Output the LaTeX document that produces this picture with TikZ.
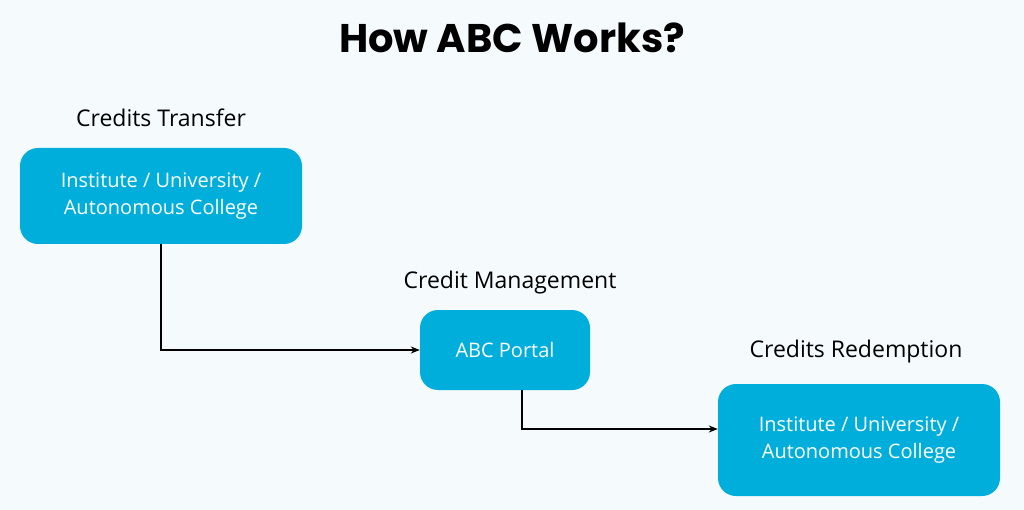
\documentclass[tikz,border=0pt]{standalone}
\usepackage{fontspec}
\setmainfont{Open Sans}
\newfontfamily\titlefont{Poppins}
\usetikzlibrary{arrows.meta}
\definecolor{bgblue}{HTML}{F5FAFD}
\definecolor{boxcyan}{HTML}{00AEDB}

\begin{document}
\begin{tikzpicture}[
    x=1pt, y=-1pt,
    arrowtip/.style={
      -{Stealth[length=9pt,width=7pt]}, line width=1.2pt
    },
    portal/.style={
      rounded corners=18pt, fill=boxcyan, text=white, align=center,
      font=\fontsize{20}{27}\selectfont, inner sep=0pt
    },
    steplabel/.style={
      font=\fontsize{23}{27}\selectfont
    }
  ]
    \fill[bgblue] (0,0) rectangle (1024,510);
    \useasboundingbox (0,0) rectangle (1024,510);

    % title
    \node (Title) at (512,38) {\titlefont\bfseries\fontsize{40}{44}\selectfont How ABC Works?};

    % steps
    \node[steplabel] (LabA) at (161,118) {Credits Transfer};
    \node[portal,minimum width=282pt,minimum height=96pt] (BoxA) at (161,196)
      {Institute / University /\\Autonomous College};

    \node[steplabel] (LabB) at (510,283) {Credit Management};
    \node[portal,minimum width=170pt,minimum height=80pt] (BoxB) at (505,350) {ABC Portal};

    \node[steplabel] (LabC) at (856,352) {Credits Redemption};
    \node[portal,minimum width=282pt,minimum height=112pt] (BoxC) at (859,440)
      {Institute / University /\\Autonomous College};

    % arrows
    \draw[arrowtip] (BoxA.south) |- (BoxB.west);
    \draw[arrowtip] ([xshift=17pt]BoxB.south) |- ([yshift=11pt]BoxC.west);
\end{tikzpicture}
\end{document}
